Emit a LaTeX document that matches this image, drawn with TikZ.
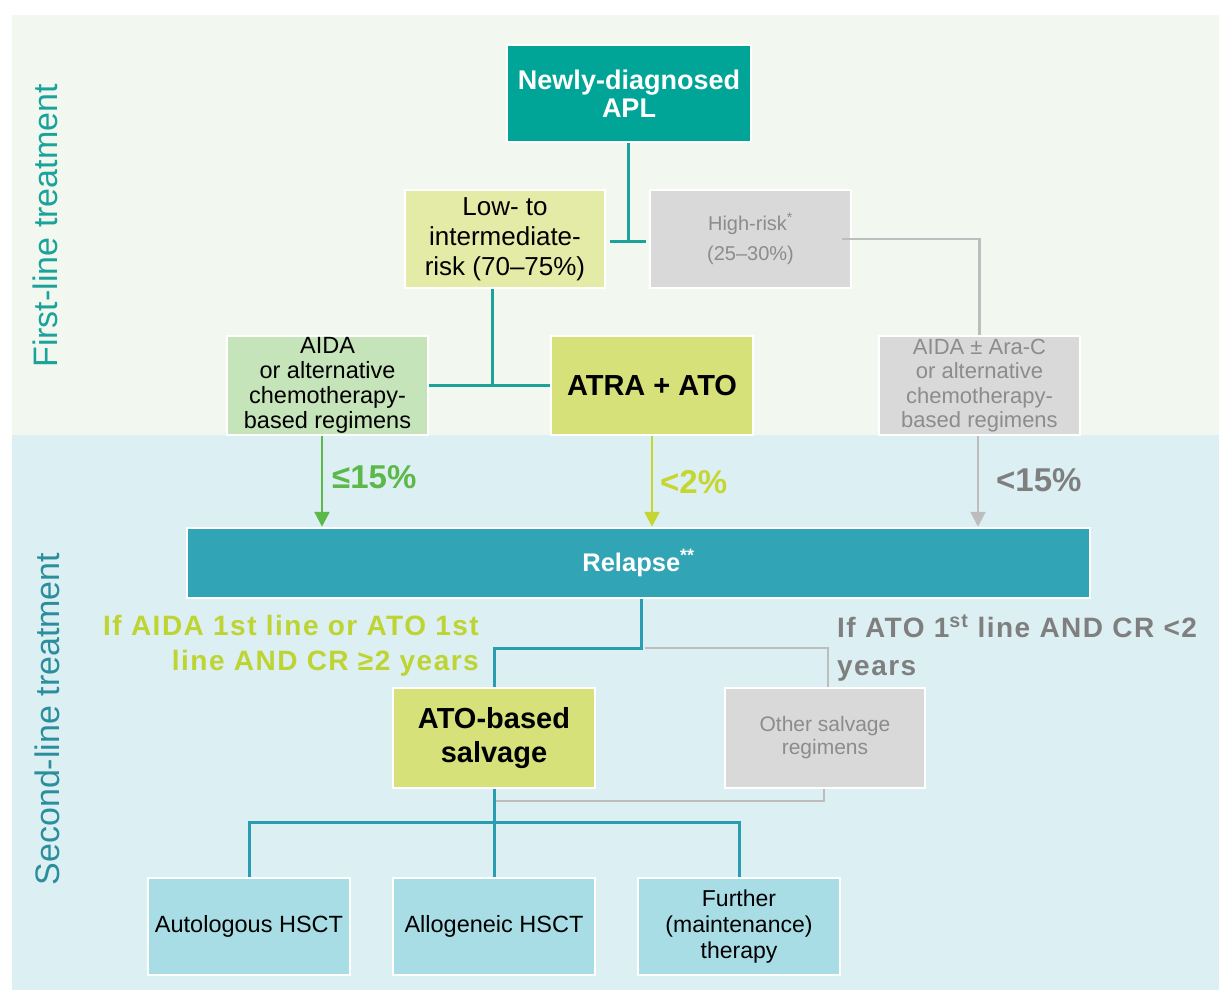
\documentclass[tikz,border=0pt]{standalone}
\usepackage{fontspec}
\setmainfont{Liberation Sans}
\usetikzlibrary{arrows.meta,calc}
\definecolor{topbg}{HTML}{F2F8F0}
\definecolor{botbg}{HTML}{DCEFF3}
\definecolor{aplteal}{HTML}{00A598}
\definecolor{lowfill}{HTML}{E3EBA6}
\definecolor{aidafill}{HTML}{C5E4B9}
\definecolor{atrafill}{HTML}{D6E17A}
\definecolor{greyfill}{HTML}{D9D9D9}
\definecolor{greytext}{HTML}{8C8C8C}
\definecolor{relfill}{HTML}{31A4B6}
\definecolor{childfill}{HTML}{A8DDE6}
\definecolor{teal1}{HTML}{1AA399}
\definecolor{teal2}{HTML}{2A9DB2}
\definecolor{greenarrow}{HTML}{5CB848}
\definecolor{yellowarrow}{HTML}{C6D631}
\definecolor{condyellow}{HTML}{BED432}
\definecolor{darkgrey}{HTML}{7F7F7F}
\definecolor{greyline}{HTML}{BDBDBD}
\definecolor{lab1}{HTML}{1BA39B}
\definecolor{lab2}{HTML}{2B8E9C}
\begin{document}
\begin{tikzpicture}[x=1pt,y=-1pt,
  box/.style={draw=white, line width=2.5pt, inner sep=0pt, align=center,
    minimum width=201pt, minimum height=98pt},
  tealline/.style={draw=teal1, line width=3pt},
  bluline/.style={draw=teal2, line width=3pt},
  grline/.style={draw=greyline, line width=2.5pt},
  arr/.style={line width=2.5pt, -{Triangle[width=15pt,length=15pt]}},
  pct/.style={font=\fontsize{33}{36}\selectfont\bfseries, anchor=west, inner sep=0pt},
  vlab/.style={rotate=90, font=\fontsize{34}{36}\selectfont, inner sep=0pt},
  cond/.style={inner sep=0pt, font=\fontsize{28}{35}\selectfont\bfseries\addfontfeature{LetterSpace=5.3}}
]
\useasboundingbox (0,0) rectangle (1219,990);
\fill[white] (0,0) rectangle (1219,990);
\fill[topbg] (12,15) rectangle (1219,435);
\fill[botbg] (12,435) rectangle (1219,990);

\node[vlab, text=lab1] (l1) at (45,226) {First-line treatment};
\node[vlab, text=lab2] (l2) at (47,719) {Second-line treatment};

% first line nodes
\node[box, fill=aplteal, text=white, minimum width=244pt, minimum height=97pt,
  font=\fontsize{27}{28}\selectfont\bfseries] (apl) at (629,93.5) {Newly-diagnosed\\APL};
\node[box, fill=lowfill, minimum width=200pt, font=\fontsize{26}{30}\selectfont] (low) at (505,239) {Low- to\\intermediate-\\risk (70–75\%)};
\node[box, fill=greyfill, text=greytext, font=\fontsize{20}{30}\selectfont] (high) at (750.5,239) {High-risk\textsuperscript{*}\\(25–30\%)};
\node[box, fill=aidafill, minimum height=99pt, font=\fontsize{23.5}{25}\selectfont] (aida) at (327.5,385.5) {AIDA\\or alternative\\chemotherapy-\\based regimens};
\node[box, fill=atrafill, minimum width=202pt, minimum height=99pt, font=\fontsize{29}{32}\selectfont\bfseries] (atra) at (652,385.5) {ATRA + ATO};
\node[box, fill=greyfill, text=greytext, minimum height=99pt, font=\fontsize{22}{24.5}\selectfont] (aidac) at (979.5,385.5) {AIDA ± Ara-C\\or alternative\\chemotherapy-\\based regimens};

\coordinate (j1) at (628,241);
\coordinate (j2) at (492,385);
\draw[tealline] (apl.south -| j1) -- (j1);
\draw[tealline] ([xshift=4pt]low.east |- j1) -- ([xshift=-3pt]high.west |- j1);
\draw[tealline] (low.south -| j2) -- (j2);
\draw[tealline] (aida.east |- j2) -- (atra.west |- j2);
\draw[grline] ([xshift=-10pt]high.east) -| (aidac.north);

% relapse
\node[box, fill=relfill, text=white, minimum width=903pt, minimum height=70pt,
  font=\fontsize{25.5}{28}\selectfont\bfseries] (relapse) at (638.5,563) {Relapse\textsuperscript{**}};

\draw[arr, greenarrow] ([xshift=-5.5pt]aida.south) -- ([xshift=-5.5pt]aida.south |- relapse.north);
\draw[arr, yellowarrow] (atra.south) -- (atra.south |- relapse.north);
\draw[arr, greyline] ([xshift=-1.5pt]aidac.south) -- ([xshift=-1.5pt]aidac.south |- relapse.north);

\node[pct, text=greenarrow] (p1) at (332,477) {≤15\%};
\node[pct, text=yellowarrow] (p2) at (660,482) {<2\%};
\node[pct, text=darkgrey] (p3) at (996,480) {<15\%};

% conditions
\node[cond, text=condyellow, align=right, anchor=north east] (c1) at (479,615) {If AIDA 1st line or ATO 1st\\line AND CR ≥2 years};
\node[cond, font=\fontsize{28}{38}\selectfont\bfseries\addfontfeature{LetterSpace=5.3}, text=darkgrey, align=left, anchor=north west] (c2) at (837,615) {If ATO 1\textsuperscript{st} line AND CR <2\\years};

% second line nodes
\node[box, fill=atrafill, minimum width=202pt, minimum height=100pt, font=\fontsize{29}{34}\selectfont\bfseries] (atos) at (494,738) {ATO-based\\salvage};
\node[box, fill=greyfill, text=greytext, minimum width=200pt, minimum height=100pt, font=\fontsize{21}{23}\selectfont] (other) at (825,738) {Other salvage\\regimens};

\coordinate (j3) at (641,648);
\draw[bluline] (relapse.south -| j3) -- (j3) -| (atos.north);
\draw[grline] ([xshift=4pt]j3) -| ([xshift=3pt]other.north);

\node[box, fill=childfill, minimum width=202pt, minimum height=97pt, font=\fontsize{23.5}{26}\selectfont] (auto) at (249,926.5) {Autologous HSCT};
\node[box, fill=childfill, minimum width=202pt, minimum height=97pt, font=\fontsize{23.5}{26}\selectfont] (allo) at (494,926.5) {Allogeneic HSCT};
\node[box, fill=childfill, minimum width=202pt, minimum height=97pt, font=\fontsize{23}{26}\selectfont] (further) at (739,926.5) {Further\\(maintenance)\\therapy};

\coordinate (j4) at (494,822);
\draw[grline] ([xshift=-1pt]other.south) |- ([xshift=2pt,yshift=21pt]j4);
\draw[bluline] (atos.south) -- (allo.north);
\draw[bluline] (auto.north) |- (j4) -| (further.north);
\end{tikzpicture}
\end{document}
